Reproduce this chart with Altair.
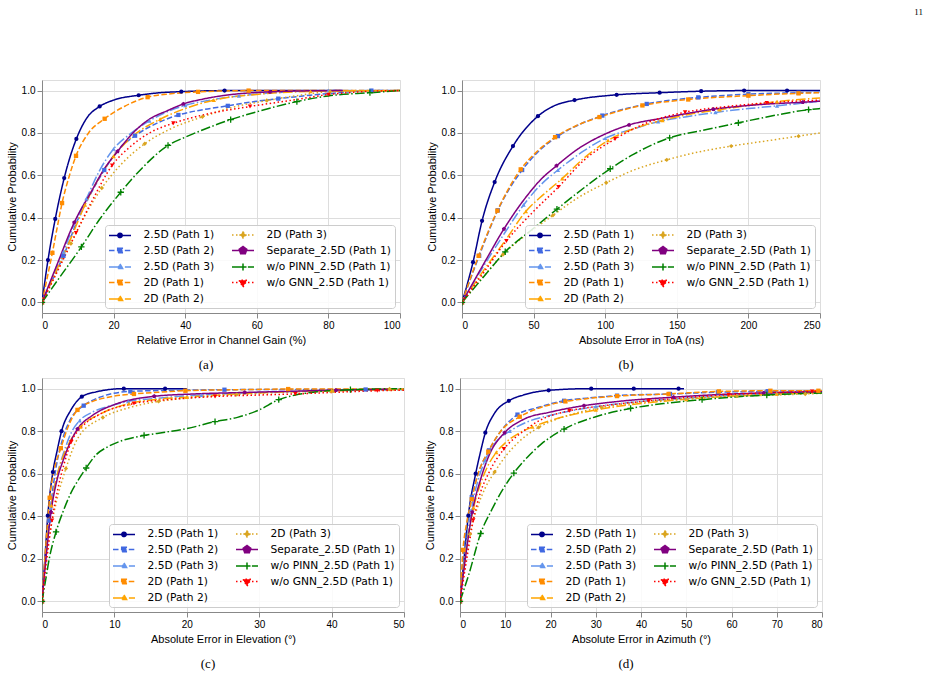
import altair as alt
import pandas as pd

NAMES = ["2.5D (Path 1)", "2.5D (Path 2)", "2.5D (Path 3)", "2D (Path 1)", "2D (Path 2)",
         "2D (Path 3)", "Separate_2.5D (Path 1)", "w/o PINN_2.5D (Path 1)", "w/o GNN_2.5D (Path 1)"]
COLORS = ["#00008B", "#4169E1", "#6495ED", "#FF8C00", "#FFA500", "#DAA520", "#800080", "#008000", "#FF0000"]
DASHES = [[1, 0], [5.5, 2.4], [9.6, 2.4, 1.5, 2.4], [5.5, 2.4], [9.6, 2.4, 1.5, 2.4],
          [1.5, 2.5], [1, 0], [9.6, 2.4, 1.5, 2.4], [1.5, 2.5]]
Y_TICKS = [0.0, 0.2, 0.4, 0.6, 0.8, 1.0]

# ---------------- panel (a): relative error in channel gain ----------------
A_X = [
    [0, 1.67, 3.7, 6.2, 9.6, 12.5, 16.1, 20, 27, 33, 38.9, 51, 65, 84],
    [0, 3, 6, 10, 13.5, 17.4, 21, 26, 32, 38.1, 45, 51.9, 58, 66, 75, 83, 92, 100],
    [0, 3, 6, 9, 12.4, 16, 20, 25, 30, 35, 40, 47, 55, 65, 80, 100],
    [0, 1.5, 2.9, 4.2, 5.6, 7.5, 9.5, 13, 17.5, 23, 29.5, 36, 43.6, 57.7, 70, 81, 100],
    [0, 4, 8, 12, 16, 20, 25, 33, 40, 48, 60, 75, 100],
    [0, 4, 8.1, 12, 16.7, 22, 28.7, 36, 44.8, 53, 62.8, 72, 80.5, 100],
    [0, 4, 9, 14, 17, 21.1, 26, 30, 35, 39.5, 45, 50, 55, 63.7, 75, 84],
    [0, 5, 11, 16, 22, 28, 35.2, 40, 45, 52.7, 60, 71.2, 80, 91.6, 100],
    [0, 5, 9.5, 14, 19.6, 25, 30, 36.7, 45, 58.1, 70, 80, 90, 100],
]
A_Y = [
    [0, 0.2, 0.394, 0.587, 0.772, 0.87, 0.925, 0.955, 0.978, 0.99, 0.995, 1.0, 1.0, 1.0],
    [0, 0.11, 0.22, 0.39, 0.51, 0.625, 0.715, 0.787, 0.845, 0.885, 0.91, 0.928, 0.945, 0.962, 0.978, 0.99, 1.0, 1.0],
    [0, 0.12, 0.24, 0.37, 0.49, 0.62, 0.725, 0.8, 0.857, 0.9, 0.93, 0.955, 0.975, 0.99, 1.0, 1.0],
    [0, 0.12, 0.234, 0.35, 0.469, 0.59, 0.692, 0.8, 0.867, 0.925, 0.969, 0.985, 0.994, 1.0, 1.0, 1.0, 1.0],
    [0, 0.15, 0.3, 0.46, 0.59, 0.69, 0.78, 0.865, 0.915, 0.955, 0.982, 0.996, 1.0],
    [0, 0.14, 0.278, 0.41, 0.54, 0.65, 0.749, 0.82, 0.876, 0.92, 0.953, 0.978, 0.995, 1.0],
    [0, 0.17, 0.377, 0.53, 0.62, 0.713, 0.81, 0.865, 0.905, 0.937, 0.96, 0.975, 0.985, 0.994, 0.999, 1.0],
    [0, 0.12, 0.262, 0.39, 0.52, 0.635, 0.741, 0.78, 0.815, 0.863, 0.9, 0.948, 0.975, 0.99, 1.0],
    [0, 0.17, 0.328, 0.48, 0.647, 0.74, 0.8, 0.846, 0.885, 0.925, 0.955, 0.981, 0.995, 1.0],
]
A_M = [
    [0, 1, 2, 3, 4, 6, 8, 10, 11],
    [0, 2, 5, 7, 9, 11, 13, 16],
    [0, 2, 4, 6, 8, 10, 12, 14],
    [0, 2, 4, 6, 8, 10, 12, 13],
    [0, 3, 5, 7, 9, 11],
    [0, 2, 4, 6, 8, 10, 12],
    [0, 2, 5, 9, 13],
    [0, 2, 4, 6, 9, 11, 13],
    [0, 2, 4, 7, 9, 11],
]

# ---------------- panel (b): absolute error in ToA ----------------
B_X = [
    [0, 7.7, 14, 22.8, 35.6, 53, 65, 78.6, 108, 138, 167, 197, 227, 250],
    [0, 12, 25, 42, 53, 67, 82, 98, 129, 165, 200, 235, 250],
    [0, 15, 30, 43, 55, 67, 85, 100, 120, 137, 157, 177, 200, 220, 250],
    [0, 11.6, 24.7, 41, 52, 65, 80, 96, 126, 158, 200, 235, 250],
    [0, 15, 30, 44.6, 57, 70, 85, 102, 120, 140, 160, 180, 200, 220, 250],
    [0, 14, 28.6, 45, 63.5, 80, 100.7, 120, 143, 165, 188, 210, 235, 250],
    [0, 15, 29.3, 45, 55, 66, 80, 100, 116.7, 140, 175.6, 210, 238, 250],
    [0, 15, 30.2, 50, 66.3, 85, 103.5, 120, 145, 170, 193, 220, 242, 250],
    [0, 15, 31, 50, 67.4, 85, 107, 130, 155.8, 185, 212.8, 250],
]
B_Y = [
    [0, 0.19, 0.385, 0.568, 0.738, 0.879, 0.93, 0.955, 0.98, 0.99, 0.997, 1.0, 1.0, 1.0],
    [0, 0.22, 0.435, 0.625, 0.71, 0.785, 0.84, 0.882, 0.937, 0.968, 0.983, 0.99, 0.992],
    [0, 0.17, 0.33, 0.46, 0.555, 0.625, 0.715, 0.775, 0.82, 0.853, 0.877, 0.897, 0.915, 0.928, 0.95],
    [0, 0.22, 0.433, 0.628, 0.71, 0.78, 0.835, 0.875, 0.93, 0.958, 0.976, 0.987, 0.99],
    [0, 0.15, 0.29, 0.43, 0.51, 0.585, 0.68, 0.765, 0.82, 0.86, 0.89, 0.91, 0.93, 0.948, 0.965],
    [0, 0.115, 0.226, 0.32, 0.411, 0.49, 0.565, 0.625, 0.673, 0.71, 0.738, 0.76, 0.785, 0.80],
    [0, 0.18, 0.347, 0.5, 0.58, 0.645, 0.72, 0.795, 0.838, 0.87, 0.912, 0.935, 0.945, 0.95],
    [0, 0.12, 0.239, 0.35, 0.44, 0.54, 0.631, 0.7, 0.777, 0.815, 0.848, 0.885, 0.91, 0.915],
    [0, 0.14, 0.29, 0.43, 0.545, 0.67, 0.772, 0.85, 0.898, 0.925, 0.942, 0.955],
]
B_M = [
    [0, 1, 2, 3, 4, 5, 7, 8, 9, 10, 11, 12],
    [0, 1, 2, 3, 5, 7, 8, 9, 10, 11],
    [0, 3, 5, 7, 9, 11, 13],
    [0, 1, 2, 3, 5, 7, 8, 9, 10, 11],
    [0, 3, 5, 7, 9, 11, 13],
    [0, 2, 4, 6, 8, 10, 12],
    [0, 2, 5, 8, 10, 12],
    [0, 2, 4, 6, 8, 10, 12],
    [0, 2, 4, 6, 8, 10],
]

# ---------------- panel (c): absolute error in elevation ----------------
C_X = [
    [0, 0.4, 0.8, 1.5, 2.1, 2.7, 4, 5.5, 7.5, 11.3, 17, 20],
    [0, 0.5, 1, 1.5, 2, 3, 4, 5.76, 8, 12.2, 18, 25.2, 35, 44.7, 50],
    [0, 0.6, 1.2, 2, 3, 4, 5.2, 7, 9, 11.9, 16, 22, 30, 40, 50],
    [0, 0.5, 1.06, 1.7, 2.6, 3.6, 4.9, 7, 9.5, 12.7, 16, 19.8, 27, 34, 42, 50],
    [0, 0.6, 1.3, 2, 2.8, 4, 5.3, 8, 12, 16, 20, 30, 40, 50],
    [0, 0.4, 1, 2, 3.3, 5, 8.4, 12, 16.1, 21, 26.9, 33, 40.3, 48, 50],
    [0, 0.6, 1.24, 2, 3, 4, 4.9, 7, 10, 15.5, 21, 28, 35, 40.6, 48],
    [0, 0.5, 1, 1.94, 3, 4, 5, 6.1, 7.5, 9, 11, 14.1, 17, 20, 23.9, 27, 30, 32.7, 35, 38, 42.6, 50],
    [0, 0.6, 1.38, 2.2, 3, 4.05, 5.5, 8, 12.7, 18, 23.9, 30, 35, 40, 46.3, 50],
]
C_Y = [
    [0, 0.2, 0.403, 0.608, 0.71, 0.8, 0.9, 0.962, 0.985, 1.0, 1.0, 1.0],
    [0, 0.2, 0.38, 0.53, 0.64, 0.78, 0.86, 0.92, 0.96, 0.987, 0.992, 0.995, 0.996, 0.996, 0.997],
    [0, 0.25, 0.44, 0.58, 0.7, 0.79, 0.85, 0.89, 0.915, 0.94, 0.955, 0.97, 0.982, 0.99, 0.995],
    [0, 0.25, 0.487, 0.62, 0.72, 0.82, 0.9, 0.94, 0.962, 0.975, 0.983, 0.99, 0.995, 0.998, 0.998, 0.998],
    [0, 0.24, 0.45, 0.58, 0.67, 0.76, 0.82, 0.88, 0.93, 0.95, 0.96, 0.98, 0.99, 0.995],
    [0, 0.15, 0.3, 0.47, 0.624, 0.77, 0.864, 0.91, 0.94, 0.958, 0.972, 0.983, 0.99, 0.998, 0.998],
    [0, 0.22, 0.419, 0.56, 0.67, 0.755, 0.81, 0.875, 0.925, 0.964, 0.975, 0.982, 0.988, 0.993, 0.997],
    [0, 0.1, 0.2, 0.327, 0.43, 0.51, 0.57, 0.627, 0.69, 0.725, 0.755, 0.78, 0.795, 0.812, 0.845, 0.865,
     0.9, 0.948, 0.97, 0.985, 0.995, 1.0],
    [0, 0.18, 0.38, 0.53, 0.64, 0.75, 0.82, 0.88, 0.93, 0.95, 0.963, 0.97, 0.975, 0.982, 0.99, 0.993],
]
C_M = [
    [0, 2, 3, 5, 7, 9, 10],
    [0, 2, 7, 9, 11, 13],
    [0, 2, 6, 9, 11, 13],
    [0, 2, 4, 6, 9, 11, 13],
    [0, 2, 6, 8, 10, 12],
    [0, 4, 6, 8, 10, 12, 13],
    [0, 2, 6, 9, 11, 13],
    [0, 3, 7, 11, 14, 17, 20],
    [0, 2, 5, 8, 10, 12, 14],
]

# ---------------- panel (d): absolute error in azimuth ----------------
D_X = [
    [0, 0.9, 1.84, 3.46, 4.5, 5.6, 7.5, 10.8, 14, 19.6, 29, 38.4, 48.3, 49.5],
    [0, 0.7, 1.5, 2.6, 4, 6.4, 9, 12.7, 17, 23, 28, 34.7, 46.4, 57, 68, 80],
    [0, 1, 2.5, 4, 5.5, 8, 11, 15, 20, 30, 40, 50, 60, 70, 80],
    [0, 0.66, 1.5, 2.6, 4, 6.25, 9, 13.2, 17, 23.3, 28, 34.7, 46.1, 57.2, 68.6, 79.2, 80],
    [0, 1.2, 3, 4.5, 6, 8, 10, 13, 16, 20, 30, 40, 50, 60, 70, 80],
    [0, 1, 2.2, 4, 5.5, 7.65, 10, 13, 17.4, 24, 31.3, 40, 50, 61.2, 70, 76.3, 80],
    [0, 1.3, 2.7, 4.5, 6.5, 9.86, 14, 20, 27.4, 35, 47.2, 57, 67.1, 80],
    [0, 2, 4.56, 7, 9, 11.9, 15, 18, 23, 30, 37.7, 45, 53.5, 60, 67.8, 80],
    [0, 1.5, 2.94, 4.5, 6.5, 9.7, 14, 18, 24.2, 32, 41.7, 50, 59.4, 68, 77.8, 80],
]
D_Y = [
    [0, 0.2, 0.403, 0.6, 0.7, 0.793, 0.88, 0.943, 0.97, 0.992, 1.0, 1.0, 1.0, 1.0],
    [0, 0.2, 0.36, 0.49, 0.6, 0.71, 0.8, 0.878, 0.91, 0.943, 0.955, 0.967, 0.975, 0.983, 0.988, 0.99],
    [0, 0.2, 0.43, 0.57, 0.66, 0.75, 0.8, 0.845, 0.875, 0.915, 0.94, 0.955, 0.968, 0.978, 0.985],
    [0, 0.242, 0.37, 0.48, 0.6, 0.704, 0.8, 0.868, 0.905, 0.94, 0.953, 0.965, 0.975, 0.987, 0.99, 0.99, 0.99],
    [0, 0.22, 0.44, 0.55, 0.63, 0.7, 0.745, 0.79, 0.82, 0.85, 0.9, 0.93, 0.95, 0.965, 0.975, 0.983],
    [0, 0.15, 0.316, 0.45, 0.53, 0.608, 0.68, 0.75, 0.818, 0.875, 0.911, 0.935, 0.952, 0.965, 0.97, 0.975, 0.978],
    [0, 0.22, 0.419, 0.57, 0.69, 0.793, 0.855, 0.89, 0.92, 0.94, 0.96, 0.972, 0.98, 0.985],
    [0, 0.13, 0.319, 0.43, 0.51, 0.603, 0.68, 0.74, 0.81, 0.868, 0.907, 0.93, 0.948, 0.96, 0.97, 0.98],
    [0, 0.2, 0.382, 0.51, 0.61, 0.716, 0.8, 0.855, 0.896, 0.92, 0.943, 0.958, 0.972, 0.98, 0.987, 0.988],
]
D_M = [
    [0, 2, 3, 5, 7, 9, 10, 11, 12],
    [0, 3, 5, 7, 9, 11, 12, 13, 14],
    [0, 2, 4, 6, 9, 11, 13],
    [0, 1, 3, 5, 7, 9, 11, 12, 13, 14, 15],
    [0, 2, 5, 8, 10, 12, 14],
    [0, 2, 5, 8, 10, 13, 15],
    [0, 2, 5, 8, 10, 12],
    [0, 2, 5, 8, 10, 12, 14],
    [0, 2, 5, 8, 10, 12, 14],
]

# ---------------- marker styling ----------------
PENTA = "M0,-1L0.951,-0.309L0.588,0.809L-0.588,0.809L-0.951,-0.309Z"
PLUS = "M-1,0L1,0M0,-1L0,1"
PLOT_SHAPES = ["circle", "square", "triangle-up", "square", "triangle-up", "diamond", PENTA, PLUS, "triangle-down"]
PLOT_SIZES = [18, 20, 26, 20, 26, 28, 60, 40, 72]
PINN = NAMES[7]

FONT = "DejaVu Sans"
FS = 10.7
LEG_SCALE = 5.0  # sqrt(symbolSize)/2


def u(v):
    return f"{v / LEG_SCALE:.3f}"


def legend_path(kind, r):
    p = f"M{u(-11)},0L{u(11)},0"
    if kind == "circle":
        p += f"M{u(r)},0A{u(r)},{u(r)} 0 1,1 {u(-r)},0A{u(r)},{u(r)} 0 1,1 {u(r)},0Z"
    elif kind == "square":
        p += f"M{u(-r)},{u(-r)}L{u(r)},{u(-r)}L{u(r)},{u(r)}L{u(-r)},{u(r)}Z"
    elif kind == "tri_up":
        p += f"M0,{u(-r)}L{u(0.866 * r)},{u(0.5 * r)}L{u(-0.866 * r)},{u(0.5 * r)}Z"
    elif kind == "tri_down":
        p += f"M0,{u(r)}L{u(0.866 * r)},{u(-0.5 * r)}L{u(-0.866 * r)},{u(-0.5 * r)}Z"
    elif kind == "diamond":
        p += f"M0,{u(-r)}L{u(r)},0L0,{u(r)}L{u(-r)},0Z"
    elif kind == "penta":
        p += (f"M0,{u(-r)}L{u(0.951 * r)},{u(-0.309 * r)}L{u(0.588 * r)},{u(0.809 * r)}"
              f"L{u(-0.588 * r)},{u(0.809 * r)}L{u(-0.951 * r)},{u(-0.309 * r)}Z")
    elif kind == "plus":
        p += f"M{u(-r)},0L{u(r)},0M0,{u(-r)}L0,{u(r)}"
    return p


LEG_KINDS = [("circle", 2.2), ("square", 2.3), ("tri_up", 3.0), ("square", 2.3), ("tri_up", 3.0),
             ("diamond", 3.0), ("penta", 4.0), ("plus", 3.5), ("tri_down", 4.6)]


def ternary(values, default):
    s = default
    for name, v in reversed(list(zip(NAMES, values))):
        s = f"datum.value === '{name}' ? {v} : ({s})"
    return s


SHAPE_EXPR = ternary([f"'{legend_path(k, r)}'" for k, r in LEG_KINDS], "'circle'")
DASH_EXPR = ternary([str(d) for d in DASHES], "[1,0]")
COLOR_EXPR = ternary([f"'{c}'" for c in COLORS], "'black'")


def make_legend():
    return alt.Legend(
        title=None, orient="bottom-right", offset=5, columns=2, columnPadding=14, rowPadding=2.5,
        padding=4, fillColor="rgba(255,255,255,0.85)", strokeColor="#cccccc", cornerRadius=3,
        labelFont=FONT, labelFontSize=FS, labelColor="black", labelOffset=17.5,
        symbolSize=100, symbolOffset=5, symbolStrokeWidth=1.5, symbolOpacity=1,
        symbolType={"expr": SHAPE_EXPR},
        symbolDash={"expr": DASH_EXPR},
        symbolFillColor={"expr": COLOR_EXPR},
        symbolStrokeColor={"expr": COLOR_EXPR},
    )


def panel(xs, ys, ms, xmax, xticks, xtitle, caption, w, h):
    line_rows, pt_rows = [], []
    for name, cx, cy, cm in zip(NAMES, xs, ys, ms):
        for xv, yv in zip(cx, cy):
            line_rows.append({"series": name, "x": xv, "y": yv})
        for i in cm:
            pt_rows.append({"series": name, "x": cx[i], "y": cy[i]})
    lines = pd.DataFrame(line_rows)
    pts = pd.DataFrame(pt_rows)

    xenc = alt.X("x:Q", scale=alt.Scale(domain=[0, xmax], nice=False, zero=False),
                 axis=alt.Axis(values=xticks, format="d", title=xtitle, titleFontWeight="normal"))
    yenc = alt.Y("y:Q", scale=alt.Scale(domain=[-0.05, 1.05], nice=False, zero=False),
                 axis=alt.Axis(values=Y_TICKS, format=".1f", title="Cumulative Probability",
                               titleFontWeight="normal"))
    cscale = alt.Scale(domain=NAMES, range=COLORS)
    leg = make_legend()

    line = alt.Chart(lines).mark_line(strokeWidth=1.5, interpolate="monotone", clip=True).encode(
        x=xenc, y=yenc,
        color=alt.Color("series:N", scale=cscale, legend=leg),
        strokeDash=alt.StrokeDash("series:N", scale=alt.Scale(domain=NAMES, range=DASHES), legend=None),
    )
    fnames = [n for n in NAMES if n != PINN]
    filled = alt.Chart(pts).transform_filter(alt.datum.series != PINN).mark_point(
        filled=True, opacity=1, clip=True).encode(
        x=xenc, y=yenc,
        color=alt.Color("series:N", scale=cscale, legend=leg),
        shape=alt.Shape("series:N", scale=alt.Scale(domain=fnames,
                        range=[PLOT_SHAPES[NAMES.index(n)] for n in fnames]), legend=None),
        size=alt.Size("series:O", scale=alt.Scale(domain=fnames,
                      range=[PLOT_SIZES[NAMES.index(n)] for n in fnames]), legend=None),
    )
    plus = alt.Chart(pts).transform_filter(alt.datum.series == PINN).mark_point(
        filled=False, shape=PLUS, size=40, strokeWidth=1.3, opacity=1, clip=True).encode(
        x=xenc, y=yenc,
        color=alt.Color("series:N", scale=cscale, legend=leg),
    )
    return alt.layer(line, filled, plus).properties(
        width=w, height=h,
        title=alt.TitleParams(caption, orient="bottom", anchor="middle", dx=-15, offset=14,
                              font="Liberation Serif", fontSize=13, fontWeight="normal", color="black"),
    )


pa = panel(A_X, A_Y, A_M, 100, [0, 20, 40, 60, 80, 100], "Relative Error in Channel Gain (%)", "(a)", 358, 233)
pb = panel(B_X, B_Y, B_M, 250, [0, 50, 100, 150, 200, 250], "Absolute Error in ToA (ns)", "(b)", 358, 233)
pc = panel(C_X, C_Y, C_M, 50, [0, 10, 20, 30, 40, 50], "Absolute Error in Elevation (°)", "(c)", 362, 234)
pd_ = panel(D_X, D_Y, D_M, 80, [0, 10, 20, 30, 40, 50, 60, 70, 80], "Absolute Error in Azimuth (°)", "(d)", 362, 234)

RES = dict(color="independent", strokeDash="independent", shape="independent", size="independent")
row1 = alt.hconcat(pa, pb, spacing=24).resolve_scale(**RES).resolve_legend(color="independent")
row2 = alt.hconcat(pc, pd_, spacing=18).resolve_scale(**RES).resolve_legend(color="independent")

chart = alt.vconcat(row1, row2, spacing=4).resolve_scale(**RES).resolve_legend(color="independent").properties(
    title=alt.TitleParams("11", anchor="end", dx=100, offset=63, font="Liberation Serif", fontSize=9,
                          fontWeight="normal", color="black"),
    padding={"left": 5, "top": 7, "right": 5, "bottom": 5},
).configure_view(stroke="black", strokeWidth=0.8).configure_axis(
    labelFont=FONT, labelFontSize=FS, labelColor="black", labelPadding=3, labelFlush=False,
    labelOverlap=False, titleFont=FONT, titleFontSize=FS, titleFontWeight="normal", titleColor="black",
    titlePadding=3, tickColor="black", tickSize=3.5, tickWidth=0.8, domain=False,
    grid=True, gridColor="#b8b8b8", gridDash=[1, 1.5], gridWidth=0.8,
).configure(background="white")

chart.save("out.html", embed_options={"renderer": "svg", "actions": False})
